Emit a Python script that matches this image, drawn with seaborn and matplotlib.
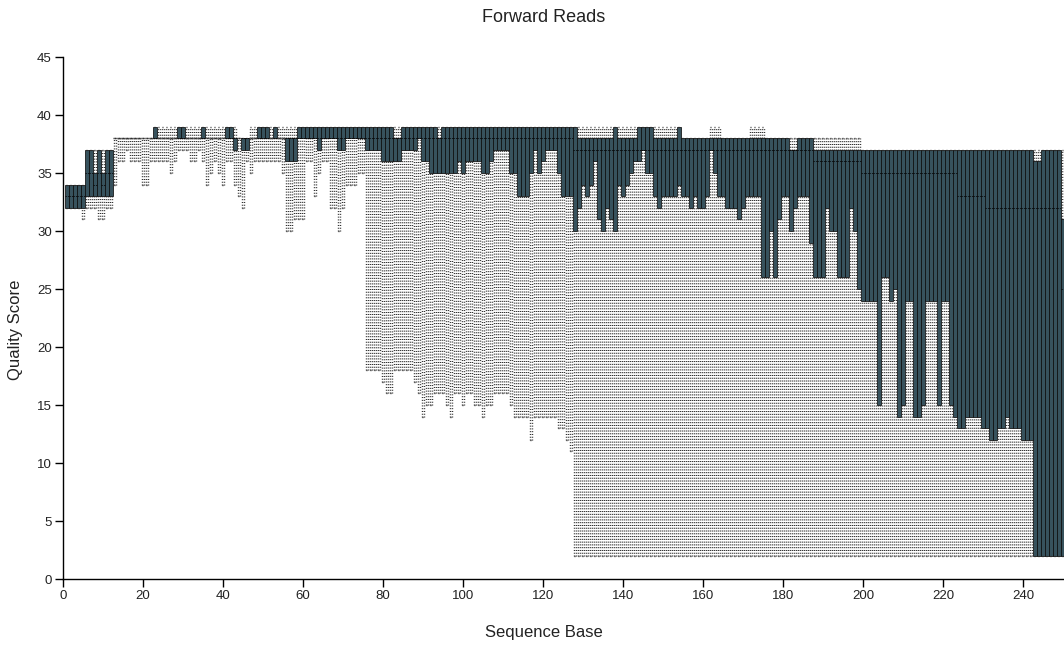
import matplotlib
matplotlib.use("Agg")
import matplotlib.pyplot as plt
import seaborn as sns

# ---- data: per-position quality quantiles (positions 1..250) ----
positions = list(range(1, 251))

q09 = [
    32,32,32,32,31, 32,32,32,31,31, 32,32,34,36,36, 37,36,36,36,34, 34,36,36,36,36,
    36,35,36,37,37, 37,36,36,37,36, 34,35,36,35,34, 36,36,34,33,32, 36,35,36,36,36,
    36,36,36,36,35, 30,30,31,31,31, 36,36,33,35,36, 36,32,32,30,32, 34,34,34,35,35,
    18,18,18,18,17, 16,16,18,18,18, 18,18,17,16,14, 15,15,16,16,16, 15,14,16,16,15,
    16,16,15,15,14, 15,15,16,16,16, 16,15,14,14,14, 14,12,14,14,14, 14,14,14,13,13,
    12,11,2,2,2, 2,2,2,2,2, 2,2,2,2,2, 2,2,2,2,2, 2,2,2,2,2,
    2,2,2,2,2, 2,2,2,2,2, 2,2,2,2,2, 2,2,2,2,2, 2,2,2,2,2,
    2,2,2,2,2, 2,2,2,2,2, 2,2,2,2,2, 2,2,2,2,2, 2,2,2,2,2,
    2,2,2,2,2, 2,2,2,2,2, 2,2,2,2,2, 2,2,2,2,2, 2,2,2,2,2,
    2,2,2,2,2, 2,2,2,2,2, 2,2,2,2,2, 2,2,2,2,2, 2,2,2,2,2,
]

q25 = [
    32,32,32,32,32, 33,33,33,33,33, 33,33,38,38,38, 38,38,38,38,38, 38,38,38,38,38,
    38,38,38,38,38, 38,38,38,38,38, 38,38,38,38,38, 38,38,37,38,37, 37,38,38,38,38,
    38,38,38,38,38, 36,36,36,38,38, 38,38,38,37,38, 38,38,38,37,37, 38,38,38,38,38,
    37,37,37,37,36, 36,36,36,36,37, 37,37,37,38,36, 36,35,35,35,35, 35,35,35,36,35,
    36,36,36,36,35, 35,36,37,37,37, 37,35,35,33,33, 33,35,37,35,36, 37,37,37,35,33,
    33,33,30,32,34, 33,34,36,31,30, 32,31,30,34,33, 34,35,36,36,37, 35,35,33,32,33,
    33,33,33,34,33, 33,32,33,32,32, 33,37,35,33,33, 32,32,32,31,32, 33,33,33,33,26,
    26,30,26,31,33, 33,30,32,33,33, 33,29,26,26,26, 32,30,30,26,26, 26,32,30,25,24,
    24,24,24,15,26, 26,24,25,14,15, 24,24,14,14,15, 24,24,24,15,24, 24,15,14,13,13,
    14,14,14,14,13, 13,12,12,13,13, 14,13,13,13,12, 12,12,2,2,2, 2,2,2,2,2,
]

q50 = [
    33,33,33,33,33, 35,35,34,35,34, 35,35,38,38,38, 38,38,38,38,38, 38,38,38,38,38,
    38,38,38,38,38, 38,38,38,38,38, 38,38,38,38,38, 38,38,38,38,38, 38,38,38,38,38,
    38,38,38,38,38, 38,38,38,38,38, 38,38,38,38,38, 38,38,38,38,38, 38,38,38,38,38,
    38,38,38,38,38, 38,38,38,38,38, 38,38,38,38,38, 38,38,38,38,38, 38,38,38,38,38,
    38,38,38,38,38, 38,38,38,38,38, 38,38,38,38,38, 38,38,38,38,38, 38,38,38,38,38,
    38,38,37,37,37, 37,37,37,37,37, 37,37,37,37,37, 37,37,37,37,37, 37,37,37,37,37,
    37,37,37,37,37, 37,37,37,37,37, 37,37,37,37,37, 37,37,37,37,37, 37,37,37,37,37,
    37,37,37,37,37, 37,37,37,37,37, 37,37,36,36,36, 36,36,36,36,36, 36,36,36,36,35,
    35,35,35,35,35, 35,35,35,35,35, 35,35,35,35,35, 35,35,35,35,35, 35,35,35,33,33,
    33,33,33,33,33, 32,32,32,32,32, 32,32,32,32,32, 32,32,32,32,32, 32,32,32,32,25,
]

q75 = [
    34,34,34,34,34, 37,37,35,37,35, 37,37,38,38,38, 38,38,38,38,38, 38,38,39,38,38,
    38,38,38,39,39, 38,38,38,38,39, 38,38,38,38,38, 39,39,38,38,38, 38,38,38,39,39,
    39,38,39,38,38, 38,38,38,39,39, 39,39,39,39,39, 39,39,39,39,39, 39,39,39,39,39,
    39,39,39,39,39, 39,39,38,38,39, 39,39,39,39,39, 39,39,39,38,39, 39,39,39,39,39,
    39,39,39,39,39, 39,39,39,39,39, 39,39,39,39,39, 39,39,39,39,39, 39,39,39,39,39,
    39,39,39,38,38, 38,38,38,38,38, 38,38,39,38,38, 38,38,38,39,39, 39,39,38,38,38,
    38,38,38,39,38, 38,38,38,38,38, 38,38,38,38,38, 38,38,38,38,38, 38,38,38,38,38,
    38,38,38,38,38, 38,37,37,38,38, 38,38,37,37,37, 37,37,37,37,37, 37,37,37,37,37,
    37,37,37,37,37, 37,37,37,37,37, 37,37,37,37,37, 37,37,37,37,37, 37,37,37,37,37,
    37,37,37,37,37, 37,37,37,37,37, 37,37,37,37,37, 37,37,36,36,37, 37,37,37,37,31,
]

q91 = [
    34,34,34,34,34, 37,37,37,37,37, 37,37,38,38,38, 38,38,38,38,38, 38,38,39,39,39,
    39,39,39,39,39, 39,39,39,39,39, 39,39,39,39,39, 39,39,39,38,38, 38,39,39,39,39,
    39,39,39,39,39, 39,39,39,39,39, 39,39,39,39,39, 39,39,39,39,39, 39,39,39,39,39,
    39,39,39,39,39, 39,39,39,39,39, 39,39,39,39,39, 39,39,39,39,39, 39,39,39,39,39,
    39,39,39,39,39, 39,39,39,39,39, 39,39,39,39,39, 39,39,39,39,39, 39,39,39,39,39,
    39,39,39,39,39, 39,39,39,39,39, 39,39,39,39,39, 39,39,39,39,39, 39,39,39,39,39,
    39,39,39,39,38, 38,38,38,38,38, 38,39,39,39,38, 38,38,38,38,38, 38,39,39,39,39,
    38,38,38,38,38, 38,38,38,38,38, 38,38,38,38,38, 38,38,38,38,38, 38,38,38,38,37,
    37,37,37,37,37, 37,37,37,37,37, 37,37,37,37,37, 37,37,37,37,37, 37,37,37,37,37,
    37,37,37,37,37, 37,37,37,37,37, 37,37,37,37,37, 37,37,37,37,37, 37,37,37,37,37,
]

x_ticks = [0, 20, 40, 60, 80, 100, 120, 140, 160, 180, 200, 220, 240]
y_ticks = [0, 5, 10, 15, 20, 25, 30, 35, 40, 45]
title = "Forward Reads"
x_label = "Sequence Base"
y_label = "Quality Score"

# ---- style ----
sns.set_theme(style="ticks")
plt.rcParams["font.family"] = ["Liberation Sans", "DejaVu Sans"]

fig = plt.figure(figsize=(10.64, 6.46), dpi=100)
ax = fig.add_axes([63 / 1064, 67 / 646, 1001 / 1064, 522 / 646])

dot = (0, (0.7, 1.3))
half = 0.22

# whiskers: two dotted columns per position (lower and upper parts)
for off in (-half, half):
    xs = [p + off for p in positions]
    ax.vlines(xs, q09, q25, colors="#2a2a2a", linestyles=[dot], linewidth=1.0)
    ax.vlines(xs, q75, q91, colors="#2a2a2a", linestyles=[dot], linewidth=1.0)

stats = [
    dict(med=m, q1=a, q3=b, whislo=lo, whishi=hi, fliers=[])
    for lo, a, m, b, hi in zip(q09, q25, q50, q75, q91)
]

art = ax.bxp(
    stats,
    positions=positions,
    widths=0.8,
    patch_artist=True,
    showfliers=False,
    showcaps=True,
    capwidths=0.6,
    boxprops=dict(facecolor="#37525d", edgecolor="#0d0d0d", linewidth=0.55),
    medianprops=dict(color="#000000", linewidth=0.5, linestyle=(0, (2, 1.5))),
    whiskerprops=dict(linestyle="none"),
    capprops=dict(color="#2a2a2a", linestyle=dot, linewidth=1.0),
    manage_ticks=False,
)
# zero-height boxes render as a dotted row, like the whisker texture
for patch, a, b in zip(art["boxes"], q25, q75):
    if a == b:
        patch.set_linestyle(dot)
        patch.set_linewidth(1.0)
        patch.set_edgecolor("#2a2a2a")
for med, a, b in zip(art["medians"], q25, q75):
    if a == b:
        med.set_visible(False)

ax.set_xlim(0, 250.25)
ax.set_ylim(0, 45)
ax.set_xticks(x_ticks)
ax.set_xticklabels([str(t) for t in x_ticks])
ax.set_yticks(y_ticks)
ax.set_yticklabels([str(t) for t in y_ticks])
ax.tick_params(axis="both", direction="out", length=6, width=1, color="#000000",
               labelsize=9.5, labelcolor="#222222", pad=2)
sns.despine(ax=ax, top=True, right=True)
for s in ("left", "bottom"):
    ax.spines[s].set_color("#000000")
    ax.spines[s].set_linewidth(1)
ax.grid(False)

fig.text(544 / 1064, 1 - 17 / 646, title, ha="center", va="center", fontsize=13, color="#222222")
fig.text(544 / 1064, 1 - 632 / 646, x_label, ha="center", va="center", fontsize=12, color="#222222")
fig.text(16 / 1064, 1 - 330 / 646, y_label, ha="center", va="center", rotation=90, fontsize=12, color="#222222")

fig.savefig("out.png", dpi=100)
